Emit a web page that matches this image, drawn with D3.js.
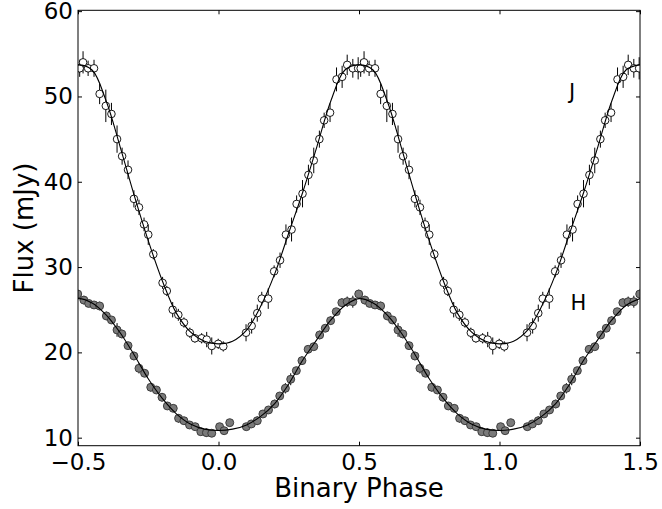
<!DOCTYPE html>
<html>
<head>
<meta charset="utf-8">
<script src="https://cdn.jsdelivr.net/npm/d3@7"></script>
<style>
  body { margin: 0; background: #fff; }
  svg text { font-family: "DejaVu Sans", sans-serif; fill: #000; }
</style>
</head>
<body>
<svg id="chart" width="662" height="509"></svg>
<script>
// one cycle of J band data (phase, flux, error), repeated at +/-1 phase when drawn
var jPhase = [-0.494, -0.482, -0.464, -0.443, -0.423, -0.401, -0.381, -0.361, -0.343, -0.322,
              -0.301, -0.283, -0.265, -0.250, -0.232, -0.199, -0.184, -0.163, -0.143, -0.123,
              -0.102, -0.084, -0.060, -0.042, -0.024, -0.001, 0.017, 0.098, 0.118, 0.138,
              0.154, 0.177, 0.198, 0.219, 0.240, 0.260, 0.278, 0.299, 0.320, 0.339,
              0.359, 0.376, 0.397, 0.420, 0.440, 0.458, 0.478, 0.497];
var jFlux  = [53.3, 54.0, 53.3, 53.3, 50.3, 48.9, 47.95, 45.0, 43.0, 41.4,
              38.0, 37.0, 35.0, 33.8, 31.5, 28.15, 27.2, 25.0, 24.4, 23.5,
              22.3, 21.65, 21.65, 21.5, 20.75, 21.0, 20.7, 22.3, 23.1, 24.6,
              26.3, 26.3, 29.5, 30.8, 33.8, 34.4, 37.4, 38.6, 40.8, 42.5,
              45.0, 47.2, 48.1, 52.0, 52.3, 53.7, 53.3, 53.3];
var jErr   = [1.0, 1.3, 0.9, 1.0, 1.2, 1.9, 1.3, 1.6, 1.0, 1.1,
              1.0, 0.9, 0.8, 1.2, 0.6, 0.7, 0.6, 0.9, 0.7, 0.6,
              0.6, 0.5, 0.6, 0.9, 1.0, 0.6, 0.6, 1.0, 0.9, 1.0,
              0.8, 1.2, 0.7, 0.9, 1.2, 1.4, 1.0, 1.6, 1.2, 1.5,
              1.0, 0.9, 1.1, 1.4, 1.3, 1.2, 1.1, 1.3];

// one cycle of H band data
var hPhase = [-0.479, -0.462, -0.443, -0.423, -0.399, -0.381, -0.361, -0.344, -0.322, -0.301,
              -0.283, -0.263, -0.241, -0.221, -0.201, -0.182, -0.161, -0.142, -0.123, -0.103,
              -0.083, -0.063, -0.043, -0.024, 0.004, 0.020, 0.040, 0.099, 0.117, 0.138,
              0.158, 0.178, 0.200, 0.218, 0.238, 0.257, 0.277, 0.297, 0.319, 0.339,
              0.360, 0.380, 0.399, 0.419, 0.439, 0.458, 0.478, 0.499];
var hFlux  = [26.13, 25.74, 25.56, 25.44, 24.27, 23.8, 22.63, 22.16, 20.79, 19.58,
              18.13, 17.55, 15.91, 15.59, 14.74, 13.72, 13.44, 12.27, 11.99, 11.49,
              11.29, 10.7, 10.59, 10.52, 11.29, 10.82, 11.76, 11.29, 11.61, 11.99,
              12.78, 13.25, 13.95, 14.89, 15.79, 16.85, 17.86, 19.03, 20.36, 20.67,
              22.04, 22.83, 23.72, 24.77, 25.83, 25.94, 25.94, 26.84];
var hErr   = [0.5, 0.4, 0.4, 0.5, 0.5, 0.4, 0.8, 0.5, 0.4, 0.5,
              0.6, 0.4, 0.5, 0.4, 0.5, 0.4, 0.4, 0.5, 0.4, 0.4,
              0.4, 0.4, 0.5, 0.4, 0.4, 0.4, 0.4, 0.4, 0.4, 0.5,
              0.4, 0.4, 0.5, 0.4, 0.6, 0.7, 0.4, 0.5, 0.4, 0.4,
              0.5, 0.4, 0.5, 0.4, 0.5, 0.6, 0.7, 0.5];

// model light curves at 0.05 phase steps over one cycle
var modelPhase = [-0.5, -0.45, -0.4, -0.35, -0.3, -0.25, -0.2, -0.15, -0.1, -0.05, 0,
                  0.05, 0.1, 0.15, 0.2, 0.25, 0.3, 0.35, 0.4, 0.45, 0.5];
var jModel = [53.7, 53.1, 49.5, 44.1, 38.4, 33.1, 28.4, 24.6, 22.4, 21.3, 21.0,
              21.3, 22.6, 25.4, 29.2, 34.0, 38.8, 44.1, 49.5, 53.1, 53.7];
var hModel = [26.3, 25.8, 24.4, 22.3, 19.7, 16.9, 14.6, 12.8, 11.6, 11.0, 10.85,
              11.0, 11.5, 12.5, 14.0, 16.3, 19.1, 21.5, 23.8, 25.5, 26.3];

var cycleShifts = [-1, 0, 1];
var xTicks = [-0.5, 0.0, 0.5, 1.0, 1.5];
var yTicks = [10, 20, 30, 40, 50, 60];
var bandLabels = [{name: "J", phase: 1.258, flux: 49.7}, {name: "H", phase: 1.281, flux: 25.0}];

var svg = d3.select("#chart");
var padL = 78, padR = 640, padT = 10.3, padB = 445.7;

var x = d3.scaleLinear().domain([-0.5, 1.5]).range([padL, padR]);
var y = d3.scaleLinear().domain([9.06, 60.1]).range([padB, padT]);

svg.append("defs").append("clipPath").attr("id", "plotclip")
  .append("rect").attr("x", padL).attr("y", padT)
  .attr("width", padR - padL).attr("height", padB - padT);

function repeatCycle(ph, fl, er) {
  var out = [];
  cycleShifts.forEach(function(s) {
    ph.forEach(function(p, i) {
      out.push({p: p + s, f: fl[i], e: er ? er[i] : 0});
    });
  });
  return out;
}

function repeatModel(vals) {
  var out = [];
  cycleShifts.forEach(function(s) {
    modelPhase.forEach(function(p, i) {
      if (s !== cycleShifts[0] && i === 0) return; // skip duplicated join point
      out.push({p: p + s, f: vals[i]});
    });
  });
  return out;
}

var plot = svg.append("g").attr("clip-path", "url(#plotclip)");

function drawSeries(data, fill, r) {
  var g = plot.append("g");
  g.selectAll("line.err").data(data).enter().append("line")
    .attr("class", "err")
    .attr("x1", function(d) { return x(d.p); })
    .attr("x2", function(d) { return x(d.p); })
    .attr("y1", function(d) { return y(d.f - d.e); })
    .attr("y2", function(d) { return y(d.f + d.e); })
    .attr("stroke", "#000").attr("stroke-width", 1);
  g.selectAll("circle").data(data).enter().append("circle")
    .attr("cx", function(d) { return x(d.p); })
    .attr("cy", function(d) { return y(d.f); })
    .attr("r", r)
    .attr("fill", fill)
    .attr("stroke", fill === "#fff" ? "#000" : "#333")
    .attr("stroke-width", 0.9);
}

drawSeries(repeatCycle(jPhase, jFlux, jErr), "#fff", 3.8);
drawSeries(repeatCycle(hPhase, hFlux, hErr), "#7a7a7a", 4);

var line = d3.line()
  .x(function(d) { return x(d.p); })
  .y(function(d) { return y(d.f); })
  .curve(d3.curveCatmullRom.alpha(0.5));

[jModel, hModel].forEach(function(m) {
  plot.append("path").datum(repeatModel(m))
    .attr("d", line)
    .attr("fill", "none")
    .attr("stroke", "#000")
    .attr("stroke-width", 1.1);
});

// frame
svg.append("rect").attr("x", padL).attr("y", padT)
  .attr("width", padR - padL).attr("height", padB - padT)
  .attr("fill", "none").attr("stroke", "#000").attr("stroke-width", 1);

// inward ticks on all four sides
var tl = 4;
svg.append("g").attr("transform", "translate(0," + padB + ")")
  .call(d3.axisBottom(x).tickValues(xTicks).tickSize(-tl).tickPadding(8)
        .tickFormat(function(d) { return d3.format(".1f")(d).replace("-", "\u2212"); }))
  .call(function(g) { g.select(".domain").remove(); });
svg.append("g").attr("transform", "translate(0," + padT + ")")
  .call(d3.axisTop(x).tickValues(xTicks).tickSize(-tl).tickFormat(""))
  .call(function(g) { g.select(".domain").remove(); });
svg.append("g").attr("transform", "translate(" + padL + ",0)")
  .call(d3.axisLeft(y).tickValues(yTicks).tickSize(-tl).tickPadding(5))
  .call(function(g) { g.select(".domain").remove(); });
svg.append("g").attr("transform", "translate(" + padR + ",0)")
  .call(d3.axisRight(y).tickValues(yTicks).tickSize(-tl).tickFormat(""))
  .call(function(g) { g.select(".domain").remove(); });

svg.selectAll(".tick line").attr("stroke", "#000");
svg.selectAll(".tick text")
  .style("font-family", "'DejaVu Sans', sans-serif")
  .style("font-size", "23px")
  .attr("fill", "#000");

// axis titles
svg.append("text")
  .attr("x", (padL + padR) / 2).attr("y", 497)
  .attr("text-anchor", "middle")
  .style("font-size", "26px")
  .text("Binary Phase");

svg.append("text")
  .attr("transform", "translate(33," + ((padT + padB) / 2) + ") rotate(-90)")
  .attr("text-anchor", "middle")
  .style("font-size", "26px")
  .text("Flux (mJy)");

// band labels
svg.selectAll("text.band").data(bandLabels).enter().append("text")
  .attr("class", "band")
  .attr("x", function(d) { return x(d.phase); })
  .attr("y", function(d) { return y(d.flux); })
  .attr("text-anchor", "middle")
  .style("font-size", "21px")
  .text(function(d) { return d.name; });
</script>
</body>
</html>
